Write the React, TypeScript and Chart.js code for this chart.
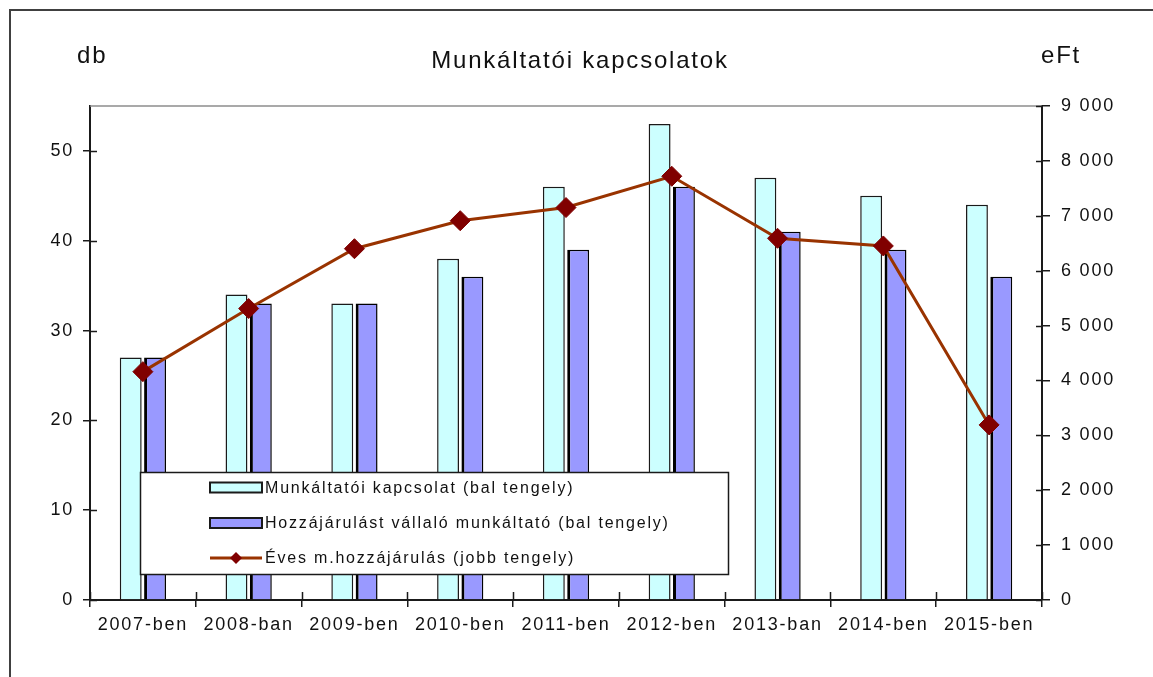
import React, { useEffect, useRef } from 'react';
import { Chart, registerables } from 'chart.js';

Chart.register(...registerables);

const categories = ['2007-ben', '2008-ban', '2009-ben', '2010-ben', '2011-ben', '2012-ben', '2013-ban', '2014-ben', '2015-ben'];
const kapcsolat = [27, 34, 33, 38, 46, 53, 47, 45, 44];
const vallalo = [27, 33, 33, 36, 39, 46, 41, 39, 36];
const hozzajarulas = [4160, 5310, 6400, 6910, 7150, 7720, 6590, 6450, 3190];
const leftTicks = [0, 10, 20, 30, 40, 50];
const rightTicks = [0, 1000, 2000, 3000, 4000, 5000, 6000, 7000, 8000, 9000];
const seriesLabels = [
  'Munkáltatói kapcsolat (bal tengely)',
  'Hozzájárulást vállaló munkáltató (bal tengely)',
  'Éves m.hozzájárulás (jobb tengely)',
];
const titleText = 'Munkáltatói kapcsolatok';
const leftAxisTitle = 'db';
const rightAxisTitle = 'eFt';

const W = 1153;
const H = 677;
const FONT = '"Liberation Sans", Arial, sans-serif';
const SPACING = '1.8px';
const CYAN = '#CCFFFF';
const PURPLE = '#9999FF';
const LINE = '#993300';
const MARKER = '#800000';
const AXIS = '#1a1a1a';

const fmt = (v: number) => String(v).replace(/\B(?=(\d{3})+(?!\d))/g, ' ');

const decorPlugin = {
  id: 'decor',
  beforeDraw(chart: any) {
    const ctx = chart.ctx;
    ctx.save();
    ctx.fillStyle = '#ffffff';
    ctx.fillRect(0, 0, W, H);
    ctx.strokeStyle = '#404040';
    ctx.lineWidth = 2;
    ctx.strokeRect(10, 10, W + 20, H + 20);
    ctx.restore();
    (ctx as any).letterSpacing = SPACING;
  },
  afterDraw(chart: any) {
    const ctx = chart.ctx;
    const ca = chart.chartArea;
    const y = chart.scales.y;
    const y1 = chart.scales.y1;
    const x = chart.scales.x;
    ctx.save();
    (ctx as any).letterSpacing = SPACING;
    // top border of plot area
    ctx.strokeStyle = '#8c8c8c';
    ctx.lineWidth = 1.5;
    ctx.beginPath();
    ctx.moveTo(ca.left, ca.top);
    ctx.lineTo(ca.right, ca.top);
    ctx.stroke();
    // inside tick parts
    ctx.strokeStyle = AXIS;
    ctx.lineWidth = 1.5;
    ctx.beginPath();
    leftTicks.forEach((v) => {
      const py = Math.round(y.getPixelForValue(v)) + 0.5;
      ctx.moveTo(ca.left, py);
      ctx.lineTo(ca.left + 7, py);
    });
    rightTicks.forEach((v) => {
      const py = Math.round(y1.getPixelForValue(v)) + 0.5;
      ctx.moveTo(ca.right - 6, py);
      ctx.lineTo(ca.right, py);
    });
    const n = categories.length;
    for (let i = 0; i <= n; i++) {
      const px = Math.round(x.left + (i * (x.right - x.left)) / n) + 0.5;
      ctx.moveTo(px, ca.bottom - 8);
      ctx.lineTo(px, ca.bottom);
    }
    ctx.stroke();

    // titles
    ctx.fillStyle = '#111';
    ctx.textBaseline = 'alphabetic';
    ctx.font = `24px ${FONT}`;
    ctx.textAlign = 'center';
    ctx.fillText(titleText, 580, 68);
    ctx.textAlign = 'left';
    ctx.font = `24px ${FONT}`;
    ctx.fillText(leftAxisTitle, 77, 63);
    ctx.fillText(rightAxisTitle, 1041, 63);

    // legend
    const lx = 140, ly = 472, lw = 588, lh = 102;
    ctx.fillStyle = '#ffffff';
    ctx.fillRect(lx, ly, lw, lh);
    ctx.strokeStyle = AXIS;
    ctx.lineWidth = 1.5;
    ctx.strokeRect(lx + 0.5, ly + 0.5, lw, lh);
    const rows = [487.5, 523, 558];
    const sx = 210, sw = 52;
    ctx.font = `16px ${FONT}`;
    ctx.textBaseline = 'middle';
    // row 1
    ctx.fillStyle = CYAN;
    ctx.fillRect(sx, rows[0] - 5, sw, 10);
    ctx.strokeStyle = AXIS;
    ctx.lineWidth = 2;
    ctx.strokeRect(sx, rows[0] - 5, sw, 10);
    // row 2
    ctx.fillStyle = PURPLE;
    ctx.fillRect(sx, rows[1] - 5, sw, 10);
    ctx.strokeRect(sx, rows[1] - 5, sw, 10);
    // row 3
    ctx.strokeStyle = LINE;
    ctx.lineWidth = 3;
    ctx.beginPath();
    ctx.moveTo(sx, rows[2]);
    ctx.lineTo(sx + sw, rows[2]);
    ctx.stroke();
    ctx.fillStyle = MARKER;
    ctx.beginPath();
    const cx = sx + sw / 2, r = 6;
    ctx.moveTo(cx, rows[2] - r);
    ctx.lineTo(cx + r, rows[2]);
    ctx.lineTo(cx, rows[2] + r);
    ctx.lineTo(cx - r, rows[2]);
    ctx.closePath();
    ctx.fill();
    ctx.fillStyle = '#111';
    seriesLabels.forEach((t, i) => ctx.fillText(t, 265, rows[i] + 1));
    ctx.restore();
  },
};

export default function App() {
  const ref = useRef<HTMLCanvasElement | null>(null);
  useEffect(() => {
    if (!ref.current) return;
    const tickFont = { family: FONT, size: 18 };
    const chart = new Chart(ref.current, {
      type: 'bar',
      data: {
        labels: categories,
        datasets: [
          {
            type: 'bar',
            label: seriesLabels[0],
            data: kapcsolat,
            backgroundColor: CYAN,
            borderColor: AXIS,
            borderWidth: 1.5,
            yAxisID: 'y',
            order: 2,
            barPercentage: 0.9,
            categoryPercentage: 0.46,
          },
          {
            type: 'bar',
            label: seriesLabels[1],
            data: vallalo,
            backgroundColor: PURPLE,
            borderColor: '#000',
            borderWidth: { left: 3, top: 1.5, right: 1.5, bottom: 0 },
            yAxisID: 'y',
            order: 2,
            barPercentage: 0.9,
            categoryPercentage: 0.46,
          },
          {
            type: 'line',
            label: seriesLabels[2],
            data: hozzajarulas,
            borderColor: LINE,
            borderWidth: 3,
            backgroundColor: MARKER,
            pointStyle: 'rectRot',
            pointRadius: 10,
            pointBackgroundColor: MARKER,
            pointBorderColor: MARKER,
            pointBorderWidth: 1,
            tension: 0,
            yAxisID: 'y1',
            order: 0,
          } as any,
        ],
      },
      options: {
        responsive: false,
        animation: false,
        devicePixelRatio: 1,
        layout: { padding: { top: 106, left: 0, right: 0, bottom: 0 } },
        plugins: {
          legend: { display: false },
          title: { display: false },
          tooltip: { enabled: false },
        },
        scales: {
          x: {
            type: 'category',
            offset: true,
            grid: {
              offset: true,
              drawOnChartArea: false,
              drawTicks: true,
              tickLength: 7,
              color: AXIS,
              lineWidth: 1.5,
            },
            border: { display: true, color: AXIS, width: 2 },
            ticks: { font: tickFont, color: '#111', padding: 7, maxRotation: 0, autoSkip: false },
            afterFit: (s: any) => {
              s.height = 77;
            },
          },
          y: {
            type: 'linear',
            position: 'left',
            min: 0,
            max: 55,
            afterBuildTicks: (s: any) => {
              s.ticks = leftTicks.map((v) => ({ value: v }));
            },
            grid: {
              drawOnChartArea: false,
              drawTicks: true,
              tickLength: 7,
              color: AXIS,
              lineWidth: 1.5,
            },
            border: { display: true, color: AXIS, width: 2 },
            ticks: { font: tickFont, color: '#111', padding: 9, callback: (v: any) => String(v) },
            afterFit: (s: any) => {
              s.width = 90;
            },
          },
          y1: {
            type: 'linear',
            position: 'right',
            min: 0,
            max: 9000,
            afterBuildTicks: (s: any) => {
              s.ticks = rightTicks.map((v) => ({ value: v }));
            },
            grid: {
              drawOnChartArea: false,
              drawTicks: true,
              tickLength: 8,
              color: AXIS,
              lineWidth: 1.5,
            },
            border: { display: true, color: AXIS, width: 2 },
            ticks: { font: tickFont, color: '#111', padding: 11, callback: (v: any) => fmt(Number(v)) },
            afterFit: (s: any) => {
              s.width = W - 1042;
            },
          },
        },
      } as any,
      plugins: [decorPlugin],
    });
    return () => chart.destroy();
  }, []);
  return (
    <div style={{ position: 'fixed', left: 0, top: 0, width: W, height: H, background: '#fff' }}>
      <canvas ref={ref} width={W} height={H} style={{ display: 'block', width: W, height: H }} />
    </div>
  );
}
